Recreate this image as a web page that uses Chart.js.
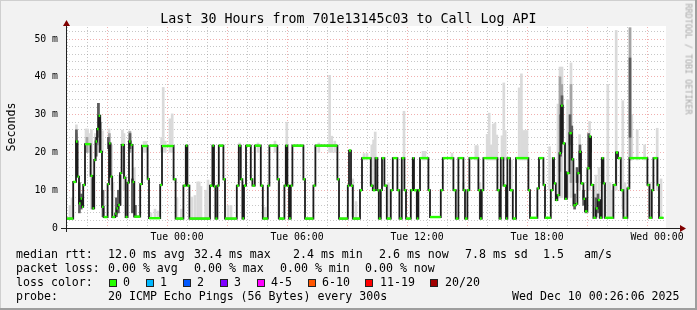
<!DOCTYPE html>
<html><head><meta charset="utf-8">
<script src="https://cdn.jsdelivr.net/npm/chart.js@4.4.1/dist/chart.umd.min.js"></script>
<style>
html,body{margin:0;padding:0;background:#f2f2f2;}
#wrap{position:relative;width:697px;height:310px;background:#f2f2f2;overflow:hidden;font-family:'DejaVu Sans Mono',monospace;color:#000;}
#c{position:absolute;left:0;top:0;}
.t{position:absolute;white-space:pre;font-size:11.6px;line-height:14px;}
.sw{position:absolute;width:6px;height:6px;border:1px solid #222;}
.rot{position:absolute;white-space:pre;}
</style></head>
<body>
<div id="wrap">
<canvas id="c" width="697" height="310"></canvas>
<div style="position:absolute;left:0;top:0;width:697px;height:1px;background:#cfcfcf"></div>
<div style="position:absolute;left:0;top:0;width:1px;height:310px;background:#cfcfcf"></div>
<div style="position:absolute;left:0;top:308px;width:697px;height:2px;background:#9e9e9e"></div>
<div style="position:absolute;left:695px;top:0;width:2px;height:310px;background:#9e9e9e"></div>
<div id="legend"></div>
</div>
<script>
// ---------- data ----------
const chartTitle = 'Last 30 Hours from 701e13145c03 to Call Log API';
const yAxisTitle = 'Seconds';
// x in hours relative to Tue 00:00
const xMin = -5.55, xMax = 24.45;
const xGridHours = [-5,-4,-3,-2,-1,0,1,2,3,4,5,6,7,8,9,10,11,12,13,14,15,16,17,18,19,20,21,22,23,24];
const xLabelHours = [0, 6, 12, 18, 24];
const xLabels = ['Tue 00:00','Tue 06:00','Tue 12:00','Tue 18:00','Wed 00:00'];
const yMax = 53.2;
const yGridValues = [0,2,4,6,8,10,12,14,16,18,20,22,24,26,28,30,32,34,36,38,40,42,44,46,48,50,52];
const yLabelValues = [0,10,20,30,40,50];
const yLabels = ['0','10 m','20 m','30 m','40 m','50 m'];

// median rtt (ms): value holds from time until next time
const medianTimes = [-5.55,-5.19,-5.05,-4.97,-4.90,-4.82,-4.75,-4.69,-4.60,-4.32,-4.22,-4.14,-4.07,-4.00,-3.92,-3.84,-3.75,-3.67,-3.47,-3.40,-3.32,-3.24,-3.09,-3.02,-2.94,-2.85,-2.77,-2.65,-2.57,-2.47,-2.40,-2.32,-2.22,-2.14,-1.84,-1.75,-1.47,-1.40,-0.84,-0.75,-0.17,-0.07,
0.32,0.44,0.52,0.62,1.65,1.77,1.85,1.92,2.02,2.09,2.32,2.40,2.99,3.09,3.19,3.27,3.35,3.45,3.69,3.77,3.89,4.19,4.29,4.54,4.62,5.02,5.10,5.37,5.44,5.52,5.60,5.69,5.77,
6.32,6.40,6.82,6.92,8.02,8.10,8.54,8.60,8.70,8.79,9.15,9.25,9.69,9.79,9.92,10.02,10.09,10.19,10.25,10.37,10.49,10.69,10.79,11.02,11.12,11.24,11.37,11.45,11.69,11.79,11.85,11.99,
12.07,12.15,12.57,12.65,13.19,13.29,13.82,13.94,14.07,14.32,14.40,14.52,14.62,15.07,15.15,15.24,15.32,16.02,16.12,16.19,16.32,16.45,16.52,16.65,16.79,16.95,17.57,17.65,
18.02,18.10,18.32,18.40,18.69,18.79,18.85,18.94,19.02,19.12,19.20,19.29,19.40,19.49,19.62,19.74,19.82,19.94,20.02,20.12,20.20,20.32,20.40,20.52,20.62,20.70,20.82,20.94,21.04,21.15,21.24,21.32,21.40,21.82,21.95,22.05,22.19,22.32,22.52,22.62,23.52,23.62,23.74,23.82,24.02,24.10];
const medianValues = [2.5,12.2,22.9,13.6,6.5,7.8,5.6,11.4,22.2,13.8,5.2,18.0,22.9,26.2,29.7,20.2,5.6,2.9,11.6,22.4,13.6,2.9,3.8,5.2,6.1,14.5,22.0,13.3,2.9,12.0,22.9,22.0,12.2,3.0,11.6,21.7,13.0,2.6,11.4,21.7,12.9,2.5,
11.2,21.8,11.2,2.5,11.2,21.8,11.0,2.5,11.2,21.8,12.9,2.5,11.2,21.8,12.9,2.5,11.2,21.8,12.9,11.2,21.8,11.2,2.5,11.2,21.8,12.9,2.5,11.2,21.8,11.2,2.5,11.2,21.8,
12.9,2.5,11.2,21.8,12.9,2.5,11.2,20.5,11.2,2.5,10.0,18.5,11.2,10.0,18.5,10.0,2.5,10.0,18.5,11.2,2.5,10.0,18.5,10.0,2.5,18.5,10.0,2.5,10.0,18.5,10.0,2.5,
10.0,18.5,10.0,2.9,10.0,18.5,10.0,2.5,18.5,10.0,2.5,10.0,18.5,10.0,2.5,10.0,18.5,10.0,2.5,18.5,11.2,2.5,18.5,10.0,2.5,18.5,10.0,2.7,
10.5,18.5,11.4,2.7,10.0,18.5,11.8,7.4,8.7,19.8,32.4,22.4,7.7,14.5,25.1,18.2,6.0,6.4,14.5,20.2,11.8,7.7,4.4,15.8,24.2,11.4,2.7,5.2,7.4,2.7,18.5,11.8,2.7,11.4,20.0,18.5,10.0,2.7,10.5,18.5,11.4,2.7,10.0,18.5,11.4,2.7];
const medianEnd = 24.32;

// smoke (ms): light, mid and dark shades
const lightTimes = [-5.35,-5.25,-5.03,-4.55,-4.47,-4.39,-4.28,-4.08,-3.73,-3.40,-3.27,-3.20,-2.73,-2.65,-2.38,-2.13,-1.65,-1.55,-1.30,-1.10,-0.95,-0.77,-0.69,-0.59,-0.35,-0.24,
0.00,0.22,0.75,0.90,1.03,1.11,1.20,1.43,1.55,2.55,2.70,3.13,4.05,4.40,4.90,5.08,5.49,7.09,7.63,7.74,7.89,8.79,8.95,9.35,9.50,9.74,9.83,9.91,10.57,11.35,12.30,12.40,13.75,14.32,15.15,14.94,15.02,
15.51,15.61,15.71,15.81,15.90,15.99,16.25,16.34,16.41,16.72,17.11,17.22,17.32,17.42,17.50,18.63,19.05,19.15,19.25,19.53,19.70,20.13,20.63,20.95,21.10,21.30,21.54,21.65,21.75,21.96,22.29,22.40,22.65,22.74,23.01,23.38,23.65,24.01,24.20];
const lightLow = [2.5,2.5,14,20,20,20,5,18,20,20,10,3,20,10,20,3,20,20,2.6,2.6,2.6,20,20,20,20,20,
2.5,2.5,2.5,2.5,2.5,2.5,2.5,2.5,2.5,2.5,2.5,20,20,2.5,20,2.5,20,20,20,20,20,3,2.5,18,18,11,11,11,2.5,18,18,18,18,10,2.5,18,18,
18,18,18,18,18,18,18,18,18,10,18,18,18,18,18,10,8,8,8,8,8,10,10,2.7,2.7,2.7,2.7,2.7,2.7,10,5,2.7,18,18,18,18,2.7,10,2.7];
const lightHigh = [6,8,27.3,26.2,26.2,25,26,25,25.7,26.2,22,12,25.9,25,25.7,16,22.9,22.9,4,5,4.5,24,37.2,23,28.9,30.2,
8,5,8.2,8.6,12.2,12.2,11,10,12.7,6,6,22.5,22.5,5.5,23,12,28,22.5,40.4,24.3,23,13,7,19.7,19.7,22,23.3,25.4,12,30.9,20.3,20.3,19.8,12,12,21.8,21.8,
24.8,30.4,22,27.5,27.8,24.6,24.4,38.4,25.8,18,37.1,40.8,25.8,25.8,25.8,21.5,32.8,42.6,42.6,34,43.7,24.7,28.2,14,16,18,38,12,10,52.3,33.7,12,53,30,26,22,12,26.4,13];
const midTimes = [-5.03,-4.50,-3.93,-3.86,-3.38,-2.35,19.15,19.24,19.70,22.65];
const midLow = [18,20,22,20,20,20,15,20,12,18];
const midHigh = [25,24,33,30,25,25.5,40,38,38,53];
const darkTimes = [-5.03,-4.88,-4.79,-4.20,-4.04,-3.93,-3.84,-3.70,-3.43,-3.03,-2.93,-2.84,-2.35,-2.23,-2.08,19.18,19.25,19.45,19.65,19.74,19.88,20.00,20.15,20.33,20.45,20.58,20.68,20.95,21.05,22.65];
const darkLow = [22,4,5,5,19,24,20,3,21,3,4,6,21,4,3,19,24,8,22,18,5,12,18,6,4,16,20,3,4,24];
const darkHigh = [26,12,9,13,24,33,28,10,24,8,10,14,25,13,6,30,35,15,30,27,9,16,22,10,8,25,24,8,9,45];

// legend texts
const legendRows = [
  {top:247, items:[[16,'median rtt:'],[108,'12.0 ms avg'],[194,'32.4 ms max'],[293,'2.4 ms min'],[379,'2.6 ms now'],[465,'7.8 ms sd'],[543,'1.5'],[584,'am/s']]},
  {top:261, items:[[16,'packet loss:'],[108,'0.00 % avg'],[194,'0.00 % max'],[280,'0.00 % min'],[365,'0.00 % now']]},
  {top:274.5, items:[[16,'loss color:']]},
  {top:288.5, items:[[16,'probe:'],[108,'20 ICMP Echo Pings (56 Bytes) every 300s'],[512,'Wed Dec 10 00:26:06 2025']]}
];
const lossLabels = ['0','1','2','3','4-5','6-10','11-19','20/20'];
const lossColors = ['#26ff00','#00b8ff','#0059ff','#7e00ff','#ff00ff','#ff5500','#ff0000','#a10000'];
const lossBoxX = [109,146,183,220,257,308,365,430];
const lossTextX = [123,160,197,234,271,322,380,445];
const creditText = 'RRDTOOL / TOBI OETIKER';

// ---------- build ----------
const GREEN = lossColors[0];
const stepPts = [];
for (let i = 0; i < medianTimes.length; i++) {
  const tEnd = i + 1 < medianTimes.length ? medianTimes[i+1] : medianEnd;
  stepPts.push({x: medianTimes[i], y: medianValues[i]});
  stepPts.push({x: tEnd, y: medianValues[i]});
}
const toBars = (t, lo, hi) => t.map((x, i) => ({x: x, y: [lo[i], hi[i]]}));

// HTML texts
const wrap = document.getElementById('wrap');
function addDiv(cls, style, text) {
  const d = document.createElement('div'); d.className = cls; d.setAttribute('style', style); d.textContent = text; wrap.appendChild(d); return d;
}
addDiv('t', 'left:0;top:11.4px;width:697px;text-align:center;font-size:13.3px;line-height:16px;', chartTitle);
legendRows.forEach(r => r.items.forEach(([x, s]) => addDiv('t', `left:${x}px;top:${r.top}px;`, s)));
lossLabels.forEach((s, i) => {
  addDiv('sw', `left:${lossBoxX[i]}px;top:279px;background:${lossColors[i]};`, '');
  addDiv('t', `left:${lossTextX[i]}px;top:274.5px;`, s);
});
addDiv('rot', 'left:10.5px;top:127px;font-size:11.6px;line-height:12px;transform:translate(-50%,-50%) rotate(-90deg);', yAxisTitle);
addDiv('rot', 'left:688px;top:59px;font-size:8.4px;line-height:9px;color:#a8a8a8;transform:translate(-50%,-50%) rotate(90deg);', creditText);

const framePlugin = {
  id: 'framePlugin',
  beforeDraw(chart) {
    const {ctx, chartArea: a} = chart;
    ctx.save(); ctx.fillStyle = '#ffffff';
    ctx.fillRect(a.left, a.top - 1, a.right - a.left, a.bottom - a.top + 1);
    ctx.restore();
  },
  afterDatasetsDraw(chart) {
    const {ctx, chartArea: a} = chart;
    ctx.save();
    ctx.strokeStyle = '#212121'; ctx.lineWidth = 1;
    const yb = Math.round(a.bottom) + 0.5, xl = Math.round(a.left) + 0.5;
    ctx.beginPath(); ctx.moveTo(a.left - 5, yb); ctx.lineTo(a.right + 15, yb); ctx.stroke();
    ctx.beginPath(); ctx.moveTo(xl, a.bottom + 4); ctx.lineTo(xl, a.top - 3); ctx.stroke();
    ctx.fillStyle = '#800000';
    ctx.beginPath(); ctx.moveTo(a.right + 20, yb); ctx.lineTo(a.right + 14, yb - 3.5); ctx.lineTo(a.right + 14, yb + 3.5); ctx.closePath(); ctx.fill();
    ctx.beginPath(); ctx.moveTo(xl, a.top - 7); ctx.lineTo(xl - 3.5, a.top - 1); ctx.lineTo(xl + 3.5, a.top - 1); ctx.closePath(); ctx.fill();
    ctx.restore();
  }
};

const MAJOR = 'rgba(222,79,79,0.45)';
const MINOR = 'rgba(143,143,143,0.5)';
Chart.defaults.font.family = "'DejaVu Sans Mono', monospace";
const barCommon = {type: 'bar', grouped: false, barThickness: 2, borderWidth: 0};
new Chart(document.getElementById('c'), {
  type: 'line',
  data: {
    datasets: [
      {type: 'line', label: 'median', data: stepPts, order: 0, borderWidth: 2.4, pointRadius: 0, tension: 0,
       borderColor: GREEN, segment: {borderColor: c => c.p0.parsed.y === c.p1.parsed.y ? GREEN : 'rgba(0,0,0,0)'}},
      {type: 'line', label: 'median-steps', data: stepPts, order: 1, borderWidth: 1.8, pointRadius: 0, tension: 0, borderColor: '#1c1c1c'},
      Object.assign({label: 'smoke-dark', data: toBars(darkTimes, darkLow, darkHigh), order: 2, backgroundColor: '#5c5c5c'}, barCommon),
      Object.assign({label: 'smoke-mid', data: toBars(midTimes, midLow, midHigh), order: 3, backgroundColor: '#a4a4a4'}, barCommon),
      Object.assign({label: 'smoke-light', data: toBars(lightTimes, lightLow, lightHigh), order: 4, backgroundColor: '#dadada'}, barCommon)
    ]
  },
  options: {
    responsive: false, animation: false, events: [],
    layout: {padding: {left: 0, top: 27, right: 31, bottom: 0}},
    plugins: {legend: {display: false}, tooltip: {enabled: false}, title: {display: false}},
    scales: {
      x: {
        type: 'linear', min: xMin, max: xMax, offset: false,
        afterBuildTicks: s => { s.ticks = xGridHours.map(v => ({value: v})); },
        afterFit: s => { s.height = 82; },
        ticks: {autoSkip: false, maxRotation: 0, minRotation: 0, padding: 4, color: '#000', font: {size: 9.8},
          callback: v => { const i = xLabelHours.indexOf(v); return i >= 0 ? xLabels[i] : ''; }},
        grid: {drawTicks: false, lineWidth: 1,
          color: c => (c.tick && c.tick.value % 3 === 0) ? MAJOR : MINOR},
        border: {display: false, dash: [1, 2]}
      },
      y: {
        type: 'linear', min: 0, max: yMax,
        afterBuildTicks: s => { s.ticks = yGridValues.map(v => ({value: v})); },
        afterFit: s => { s.width = 66; },
        ticks: {autoSkip: false, padding: 8, color: '#000', font: {size: 9.8},
          callback: v => { const i = yLabelValues.indexOf(v); return i >= 0 ? yLabels[i] : ''; }},
        grid: {drawTicks: false, lineWidth: 1,
          color: c => (!c.tick || c.tick.value === 0) ? 'rgba(0,0,0,0)' : (c.tick.value % 10 === 0 ? MAJOR : MINOR)},
        border: {display: false, dash: [1, 2]}
      }
    }
  },
  plugins: [framePlugin]
});
</script>
</body></html>
